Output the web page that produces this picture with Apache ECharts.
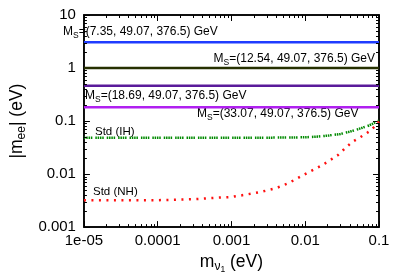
<!DOCTYPE html>
<html>
<head>
<meta charset="utf-8">
<script src="https://cdn.jsdelivr.net/npm/echarts@6/dist/echarts.min.js"></script>
<style>html,body{margin:0;padding:0;background:#fff}#c{width:400px;height:279px}</style>
</head>
<body>
<div id="c"></div>
<script>
// ---- data ----
const xRange = [1e-5, 0.1];
const yRange = [0.001, 10];
const xTickLabels = ['1e-05', '0.0001', '0.001', '0.01', '0.1'];
const yTickLabels = ['0.001', '0.01', '0.1', '1', '10'];
const msLabels = ['(7.35, 49.07, 376.5) GeV', '(12.54, 49.07, 376.5) GeV', '(18.69, 49.07, 376.5) GeV', '(33.07, 49.07, 376.5) GeV'];
const msValues = [3.05, 1.0, 0.465, 0.182];
const msColors = ['#1f3cff', '#263000', '#5a1a9a', '#b020f0'];
const ihMass = [1e-5, 3e-5, 1e-4, 3e-4, 1e-3, 3e-3, 0.006, 0.01, 0.015, 0.02, 0.03, 0.04, 0.05, 0.06, 0.073, 0.085, 0.1];
const ihMee  = [0.0485, 0.0485, 0.0485, 0.0485, 0.0485, 0.0486, 0.0489, 0.0495, 0.051, 0.053, 0.057, 0.063, 0.069, 0.075, 0.0824, 0.091, 0.102];
const nhMass = [1e-5, 3e-5, 1e-4, 3e-4, 5.8e-4, 1e-3, 1.5e-3, 2.5e-3, 4e-3, 6e-3, 0.0105, 0.017, 0.0275, 0.035, 0.044, 0.055, 0.073, 0.085, 0.1];
const nhMee  = [0.0032, 0.0032, 0.00322, 0.00335, 0.00356, 0.0037, 0.00405, 0.0046, 0.0054, 0.0068, 0.0104, 0.0147, 0.0226, 0.031, 0.041, 0.049, 0.063, 0.076, 0.098];

const FONT = 'Liberation Sans';
const chart = echarts.init(document.getElementById('c'), null, {renderer: 'canvas'});

function decadeIndex(v) { return Math.round(Math.log10(v)); }

const minorX = [], minorY = [];
for (let e = -5; e < -1; e++) for (let k = 2; k <= 9; k++) minorX.push([k * Math.pow(10, e), 0]);
for (let e = -3; e < 1; e++) for (let k = 2; k <= 9; k++) minorY.push([k * Math.pow(10, e), 1]);

const series = [];
msValues.forEach((v, i) => {
  series.push({
    type: 'line', name: 'MS' + i, data: [[xRange[0], v], [xRange[1], v]],
    symbol: 'none', lineStyle: {color: msColors[i], width: 2.5}, silent: true
  });
});
series.push({
  type: 'line', name: 'IH', data: ihMass.map((m, i) => [m, ihMee[i]]),
  symbol: 'none', smooth: false,
  lineStyle: {color: '#008a00', width: 2.5, type: [1.5, 0.8, 1.5, 0.8, 1.5, 0.8, 1.5, 3]}
});
series.push({
  type: 'line', name: 'NH', data: nhMass.map((m, i) => [m, nhMee[i]]),
  symbol: 'none',
  lineStyle: {color: '#ff1010', width: 2.5, type: [2, 5.5]}
});
series.push({
  type: 'custom', name: 'minor', data: minorX.concat(minorY), silent: true, z: 10,
  renderItem: function (params, api) {
    const v = api.value(0), w = api.value(1);
    const cs = params.coordSys;
    const st = {stroke: '#000', lineWidth: 1};
    const L = 3;
    if (w === 0) {
      const x = Math.round(api.coord([v, 1])[0]) + 0.5;
      return {type: 'group', children: [
        {type: 'line', shape: {x1: x, y1: cs.y + cs.height, x2: x, y2: cs.y + cs.height - L}, style: st},
        {type: 'line', shape: {x1: x, y1: cs.y, x2: x, y2: cs.y + L}, style: st}
      ]};
    } else {
      const y = Math.round(api.coord([1e-3, v])[1]) + 0.5;
      return {type: 'group', children: [
        {type: 'line', shape: {x1: cs.x, y1: y, x2: cs.x + L, y2: y}, style: st},
        {type: 'line', shape: {x1: cs.x + cs.width, y1: y, x2: cs.x + cs.width - L, y2: y}, style: st}
      ]};
    }
  }
});

const axisCommon = {
  type: 'log', logBase: 10,
  axisLine: {show: true, lineStyle: {color: '#000', width: 1.5}},
  axisTick: {show: true, inside: true, length: 6, lineStyle: {color: '#000', width: 1}},
  splitLine: {show: false},
  minorTick: {show: false}
};

const rich = {
  n: {fontFamily: FONT, fontSize: 12, color: '#000'},
  s: {fontFamily: FONT, fontSize: 8.5, color: '#000', padding: [7, 0, 0, 0]}
};

chart.setOption({
  animation: false,
  backgroundColor: '#fff',
  grid: {left: 60, right: 21, top: 15, bottom: 50, show: true, borderColor: '#000', borderWidth: 1.5},
  xAxis: [
    Object.assign({}, axisCommon, {
      min: xRange[0], max: xRange[1], position: 'bottom',
      axisLabel: {fontFamily: FONT, fontSize: 15, color: '#000', margin: 6,
        formatter: v => xTickLabels[decadeIndex(v) + 5]},
      name: '{a|m}{b|ν}{c|1}{a| (eV)}', nameLocation: 'middle', nameGap: 17,
      nameTextStyle: {rich: {
        a: {fontFamily: FONT, fontSize: 17.5, color: '#000'},
        b: {fontFamily: FONT, fontSize: 12, color: '#000', padding: [9, 0, 0, 0]},
        c: {fontFamily: FONT, fontSize: 8.5, color: '#000', padding: [15, 0, 0, 0]}
      }}
    }),
    Object.assign({}, axisCommon, {
      min: xRange[0], max: xRange[1], position: 'top', axisLabel: {show: false}
    })
  ],
  yAxis: [
    Object.assign({}, axisCommon, {
      min: yRange[0], max: yRange[1], position: 'left',
      axisLabel: {fontFamily: FONT, fontSize: 15, color: '#000', margin: 8,
        formatter: v => yTickLabels[decadeIndex(v) + 3]},
      name: '{a||m}{b|ee}{a|| (eV)}', nameLocation: 'middle', nameGap: 46, nameRotate: 90,
      nameTextStyle: {rich: {
        a: {fontFamily: FONT, fontSize: 17.5, color: '#000'},
        b: {fontFamily: FONT, fontSize: 12, color: '#000', padding: [9, 0, 0, 0]}
      }}
    }),
    Object.assign({}, axisCommon, {
      min: yRange[0], max: yRange[1], position: 'right', axisLabel: {show: false}
    })
  ],
  series: series,
  graphic: [
    {type: 'text', left: 63, top: 26, style: {text: '{n|M}{s|S}{n|=' + msLabels[0] + '}', rich: rich}},
    {type: 'text', right: 25, top: 53, style: {text: '{n|M}{s|S}{n|=' + msLabels[1] + '}', rich: rich}},
    {type: 'text', left: 85, top: 90, style: {text: '{n|M}{s|S}{n|=' + msLabels[2] + '}', rich: rich}},
    {type: 'text', left: 197, top: 108, style: {text: '{n|M}{s|S}{n|=' + msLabels[3] + '}', rich: rich}},
    {type: 'text', left: 95, top: 126, style: {text: 'Std (IH)', fontFamily: FONT, fontSize: 11.5, fill: '#000'}},
    {type: 'text', left: 93, top: 186, style: {text: 'Std (NH)', fontFamily: FONT, fontSize: 11.5, fill: '#000'}}
  ]
});
</script>
</body>
</html>
